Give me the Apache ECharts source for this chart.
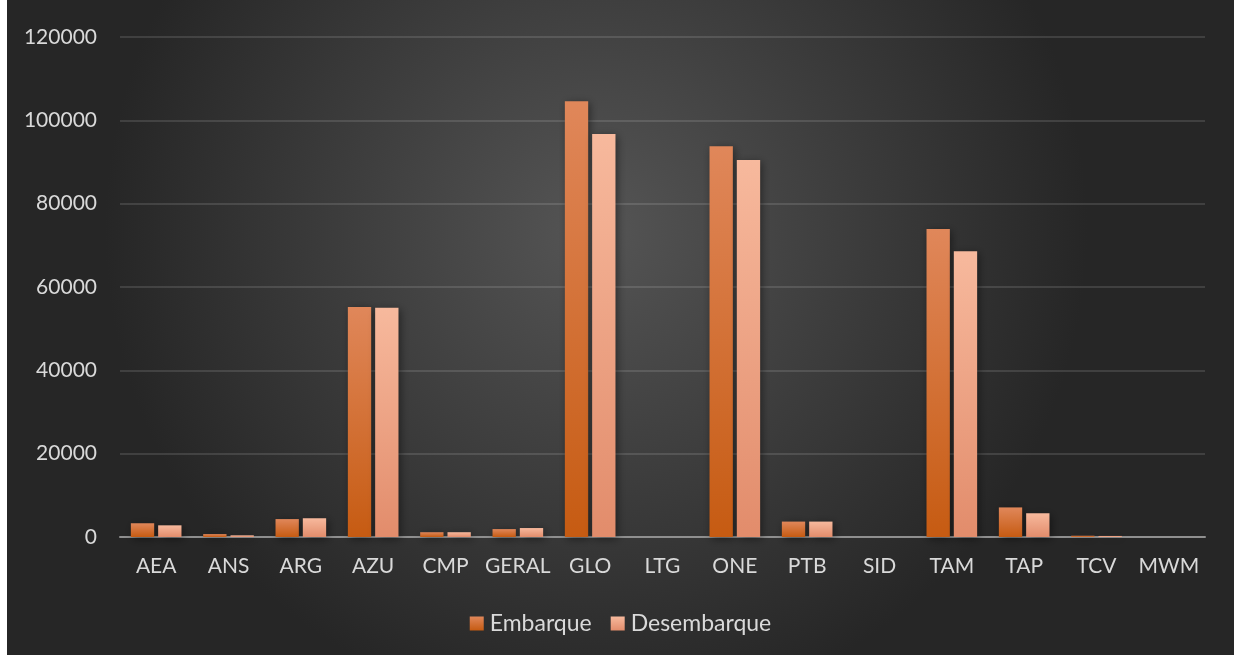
<!DOCTYPE html>
<html>
<head>
<meta charset="utf-8">
<script src="https://cdn.jsdelivr.net/npm/echarts@6/dist/echarts.min.js"></script>
<style>
  html, body { margin: 0; padding: 0; background: #ffffff; width: 1234px; height: 655px; overflow: hidden; }
  #chart { position: absolute; left: 7px; top: 0; width: 1227px; height: 655px; }
</style>
</head>
<body>
<div id="chart"></div>
<script>
const categories = ['AEA', 'ANS', 'ARG', 'AZU', 'CMP', 'GERAL', 'GLO', 'LTG', 'ONE', 'PTB', 'SID', 'TAM', 'TAP', 'TCV', 'MWM'];
const embarque = [3300, 700, 4300, 55200, 1150, 1900, 104600, 0, 93800, 3700, 0, 73900, 7100, 300, 0];
const desembarque = [2800, 400, 4500, 55000, 1150, 2150, 96700, 0, 90500, 3700, 0, 68600, 5700, 250, 0];
const yTicks = { min: 0, max: 120000, interval: 20000 };

const chart = echarts.init(document.getElementById('chart'), null, { renderer: 'canvas' });
const font = 'Lato, "Open Sans", sans-serif';
const textColor = '#d9d9d9';

function grad(top, bottom) {
  return new echarts.graphic.LinearGradient(0, 0, 0, 1, [
    { offset: 0, color: top },
    { offset: 1, color: bottom }
  ]);
}

chart.setOption({
  backgroundColor: {
    type: 'radial', x: 0.48, y: 0.35, r: 0.75,
    colorStops: [
      { offset: 0, color: '#555555' },
      { offset: 1, color: '#262626' }
    ]
  },
  animation: false,
  textStyle: { fontFamily: font },
  grid: { left: 113, right: 29, top: 37, bottom: 118, containLabel: false },
  legend: {
    top: 607,
    left: 'center',
    itemWidth: 14,
    itemHeight: 14,
    itemGap: 19,
    icon: 'rect',
    textStyle: { color: textColor, fontSize: 23, fontFamily: font, padding: [0, 0, 0, 1] },
    data: ['Embarque', 'Desembarque']
  },
  xAxis: {
    type: 'category',
    data: categories,
    axisLine: { lineStyle: { color: '#8f8f8f', width: 2 } },
    axisTick: { show: false },
    axisLabel: { color: textColor, fontSize: 21, fontFamily: font, margin: 19, interval: 0 }
  },
  yAxis: {
    type: 'value',
    min: yTicks.min,
    max: yTicks.max,
    interval: yTicks.interval,
    axisLine: { show: false },
    axisTick: { show: false },
    splitLine: { lineStyle: { color: 'rgba(255,255,255,0.12)', width: 2 } },
    axisLabel: { color: textColor, fontSize: 21, fontFamily: font, margin: 23, formatter: function (v) { return String(v); } }
  },
  series: [
    {
      name: 'Embarque',
      type: 'bar',
      data: embarque,
      barCategoryGap: '30%',
      barGap: '17%',
      itemStyle: {
        color: grad('#e0875a', '#c65b12'),
        shadowColor: 'rgba(0,0,0,0.45)',
        shadowBlur: 8,
        shadowOffsetX: 2,
        shadowOffsetY: 2
      }
    },
    {
      name: 'Desembarque',
      type: 'bar',
      data: desembarque,
      barCategoryGap: '30%',
      barGap: '17%',
      itemStyle: {
        color: grad('#f7b99d', '#e28c6b'),
        shadowColor: 'rgba(0,0,0,0.45)',
        shadowBlur: 8,
        shadowOffsetX: 2,
        shadowOffsetY: 2
      }
    }
  ]
});
</script>
</body>
</html>
